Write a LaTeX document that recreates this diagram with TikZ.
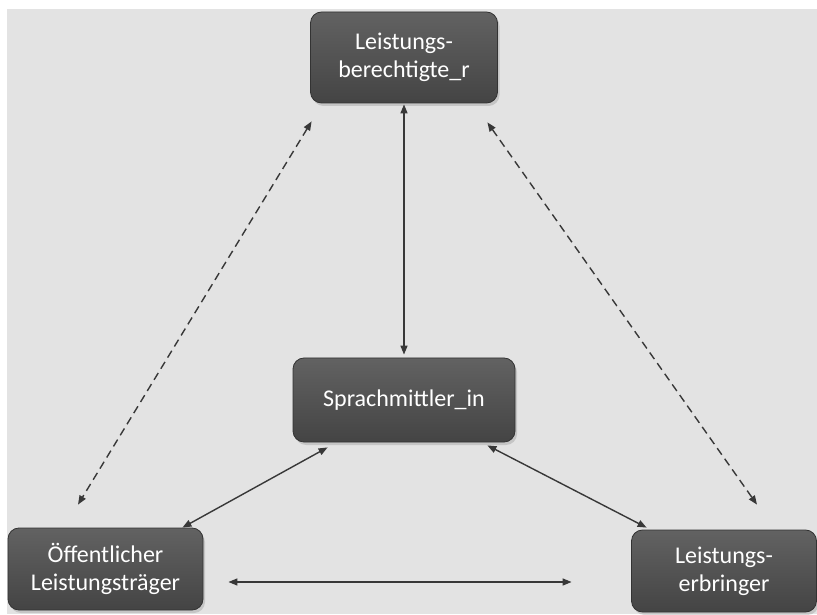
\documentclass[tikz,border=0pt]{standalone}
\usepackage{fontspec}
\setmainfont{Carlito}
\usetikzlibrary{arrows.meta,shadows}
\definecolor{bggray}{HTML}{E3E3E3}
\definecolor{boxtop}{HTML}{626262}
\definecolor{boxbot}{HTML}{444444}
\definecolor{boxline}{HTML}{333333}
\definecolor{linegray}{HTML}{383838}
\begin{document}
\begin{tikzpicture}[x=1pt,y=1pt,
    box/.style={rounded corners=11pt, top color=boxtop, bottom color=boxbot,
      draw=boxline, line width=0.8pt, text=white, align=center,
      font=\fontsize{24}{28}\selectfont, inner sep=0pt,
      drop shadow={shadow xshift=2pt, shadow yshift=-3pt, opacity=0.3}},
    link/.style={linegray, line width=1.4pt,
      {Triangle[length=9pt,width=7pt]}-{Triangle[length=9pt,width=7pt]}},
    dlink/.style={link, dash pattern=on 8pt off 5pt}]
  \useasboundingbox (0,0) rectangle (817,614);
  \fill[bggray] (7,0) rectangle (817,605);
  % boxes
  \node[box, minimum width=187pt, minimum height=91pt] (berecht) at (404,556.5) {Leistungs-\\berechtigte\_r};
  \node[box, minimum width=222pt, minimum height=84pt] (mittler) at (404,214) {Sprachmittler\_in};
  \node[box, minimum width=195pt, minimum height=82pt] (traeger) at (105.5,45) {Öffentlicher\\Leistungsträger};
  \node[box, minimum width=185pt, minimum height=82pt] (erbringer) at (724,43) {Leistungs-\\erbringer};
  % connections
  \draw[link, shorten <=1pt, shorten >=3pt] (berecht.south) -- (mittler.north);
  \draw[dlink] ([shift={(1.5,-18)}]berecht.south west) -- ([shift={(-27.5,23)}]traeger.north);
  \draw[dlink] ([shift={(-10.5,-19)}]berecht.south east) -- ([shift={(33,25)}]erbringer.north);
  \draw[link] ([shift={(35,-5)}]mittler.south west) -- ([shift={(-21,0)}]traeger.north east);
  \draw[link] ([shift={(-28,-3)}]mittler.south east) -- ([shift={(15.5,2)}]erbringer.north west);
  \draw[link, shorten <=25pt, shorten >=59.5pt] ([yshift=-13pt]traeger.east) -- ([yshift=-11pt]erbringer.west);
\end{tikzpicture}
\end{document}
